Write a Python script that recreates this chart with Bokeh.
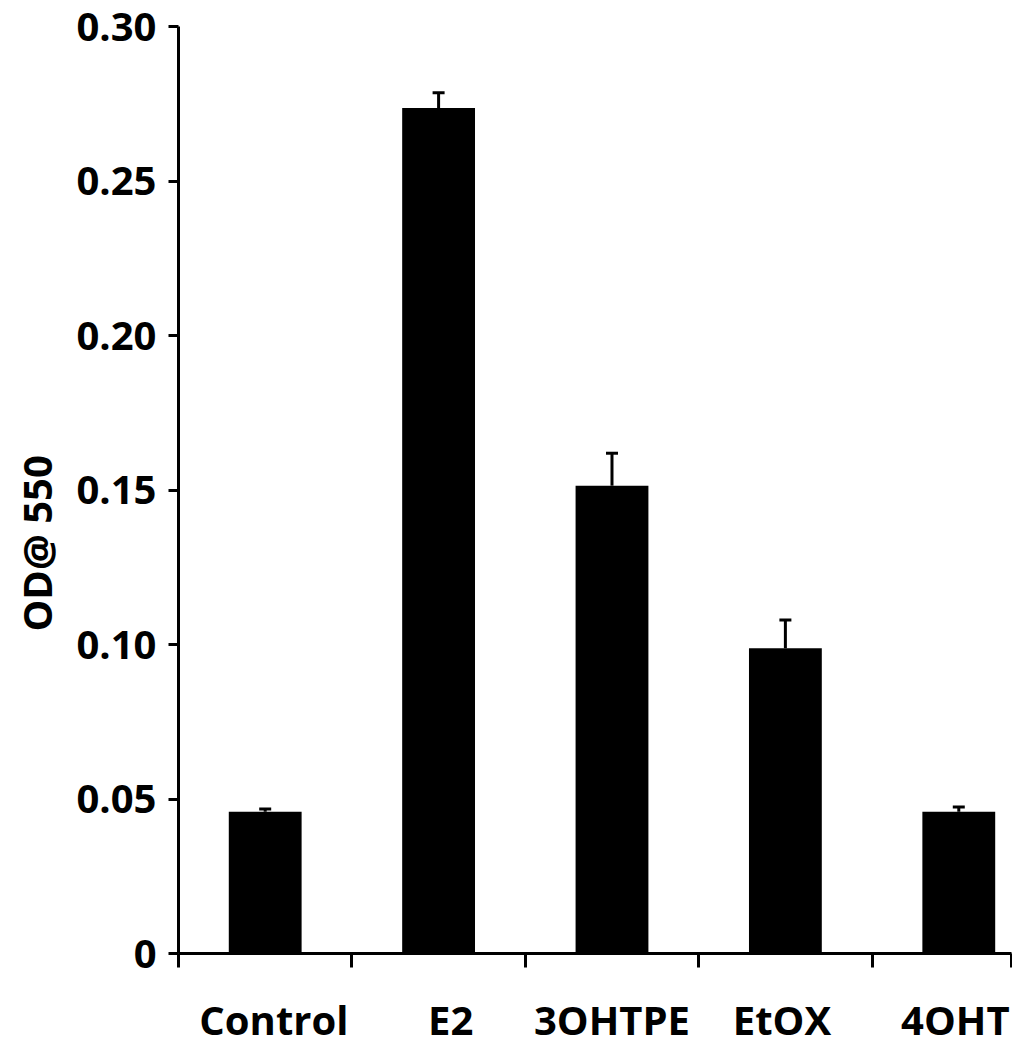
from bokeh.plotting import figure
from bokeh.models import (ColumnDataSource, FixedTicker, Range1d, Whisker,
                          TeeHead, Title)
from bokeh.embed import file_html
from bokeh.resources import INLINE

# ---- data ----
categories = ["Control", "E2", "3OHTPE", "EtOX", "4OHT"]
od_550 = [0.0459, 0.2736, 0.1514, 0.0988, 0.0459]
od_err = [0.0009, 0.0050, 0.0105, 0.0091, 0.0015]
y_ticks = [0, 0.05, 0.10, 0.15, 0.20, 0.25, 0.30]
y_tick_labels = ["0", "0.05", "0.10", "0.15", "0.20", "0.25", "0.30"]

# ---- layout (not data) ----
label_nudge = [0.05, 0.07, 0.0, -0.02, -0.02]   # small horizontal shifts of x labels
x_end = 4.804
FONT = "Open Sans"

xs = [i + 0.5 for i in range(len(categories))]
src = ColumnDataSource(dict(
    x=xs, top=od_550,
    upper=[v + e for v, e in zip(od_550, od_err)],
))

p = figure(width=1012, height=1050, output_backend="svg", toolbar_location=None,
           x_range=Range1d(0, x_end), y_range=Range1d(0, 0.30),
           min_border_left=178, min_border_right=1, min_border_top=26,
           min_border_bottom=97)
p.outline_line_color = None
p.xgrid.grid_line_color = None
p.ygrid.grid_line_color = None
p.background_fill_color = "white"
p.border_fill_color = "white"

p.vbar(x="x", top="top", width=0.42, bottom=0, source=src,
       fill_color="black", line_color=None)

wh = Whisker(base="x", lower="top", upper="upper", source=src,
             line_width=3, line_color="black",
             upper_head=TeeHead(size=12, line_width=3, line_color="black"),
             lower_head=None)
p.add_layout(wh)

# x axis
label_pos = [x + d for x, d in zip(xs, label_nudge)]
xax = p.xaxis[0]
xax.ticker = FixedTicker(ticks=label_pos, minor_ticks=[0, 1, 2, 3, 4, x_end])
xax.major_label_overrides = {pos: c for pos, c in zip(label_pos, categories)}
xax.major_tick_out = 0
xax.major_tick_in = 0
xax.minor_tick_out = 14
xax.minor_tick_in = 0
xax.minor_tick_line_width = 3
xax.minor_tick_line_color = "black"
xax.axis_line_width = 3
xax.axis_line_color = "black"
xax.major_label_standoff = 24
xax.major_label_text_font = FONT
xax.major_label_text_font_style = "bold"
xax.major_label_text_font_size = "40px"
xax.major_label_text_color = "black"

# y axis
yax = p.yaxis[0]
yax.ticker = FixedTicker(ticks=y_ticks, minor_ticks=[])
yax.major_label_overrides = {t: s for t, s in zip(y_ticks, y_tick_labels)}
yax.major_tick_out = 10
yax.major_tick_in = 0
yax.major_tick_line_width = 3
yax.axis_line_width = 3
yax.axis_line_color = "black"
yax.major_tick_line_color = "black"
yax.minor_tick_line_color = None
yax.major_label_standoff = 12
yax.major_label_text_font = FONT
yax.major_label_text_font_style = "bold"
yax.major_label_text_font_size = "40px"
yax.major_label_text_color = "black"

ytitle = Title(text="OD@ 550", align="left", vertical_align="top",
               offset=322, standoff=16,
               text_font=FONT, text_font_style="bold", text_font_size="40px",
               text_color="black")
p.add_layout(ytitle, "left")

open("out.html", "w").write(file_html(p, INLINE))
